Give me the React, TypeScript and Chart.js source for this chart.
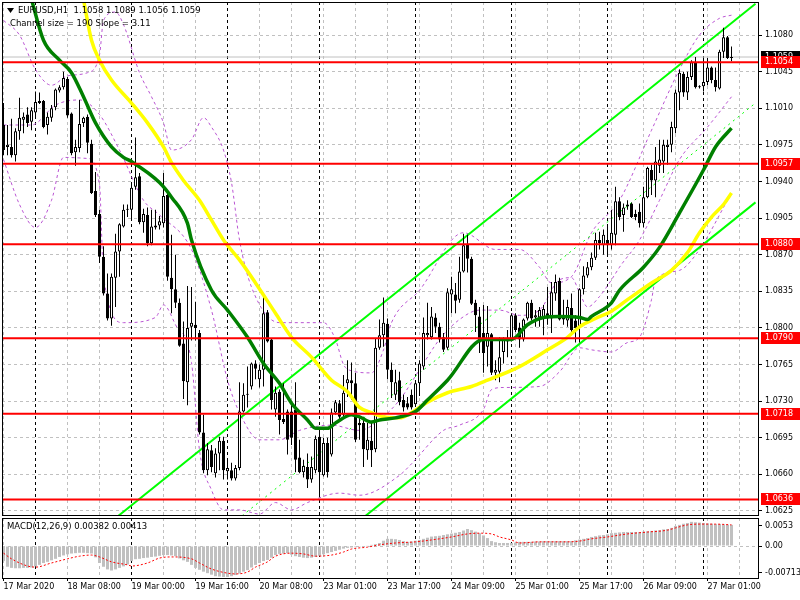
import React, { useEffect, useRef } from "react";
import { Chart, registerables } from "chart.js";

Chart.register(...registerables);

const FONT = "'DejaVu Sans', Verdana, sans-serif";

// [open, high, low, close] per H1 bar, 17 Mar 16:00 .. 27 Mar 07:00
const candles: number[][] = [
  [1.0994, 1.1015, 1.0965, 1.0970], [1.0973, 1.0994, 1.0965, 1.0975], [1.0973, 1.1000, 1.0963, 1.0965], [1.0965, 1.0991, 1.0959, 1.0988],
  [1.0988, 1.1020, 1.0980, 1.1001], [1.0999, 1.1006, 1.0986, 1.1002], [1.1004, 1.1011, 1.0992, 1.0996], [1.0997, 1.1011, 1.0989, 1.1008],
  [1.1006, 1.1026, 1.1002, 1.1016], [1.1015, 1.1025, 1.1014, 1.1017], [1.1017, 1.1018, 1.0991, 1.0992], [1.0994, 1.1006, 1.0985, 1.1002],
  [1.1001, 1.1013, 1.0997, 1.1010], [1.1011, 1.1029, 1.1008, 1.1028], [1.1027, 1.1032, 1.1025, 1.1030], [1.1030, 1.1045, 1.1028, 1.1039],
  [1.1038, 1.1040, 1.1001, 1.1003], [1.1005, 1.1006, 1.0965, 1.0967], [1.0968, 1.0980, 1.0955, 1.0973], [1.0972, 1.1018, 1.0968, 1.0995],
  [1.0996, 1.1002, 1.0992, 1.1001], [1.1002, 1.1004, 1.0967, 1.0977], [1.0976, 1.0980, 1.0928, 1.0929], [1.0931, 1.0949, 1.0906, 1.0908],
  [1.0909, 1.0913, 1.0862, 1.0868], [1.0868, 1.0878, 1.0831, 1.0833], [1.0833, 1.0852, 1.0807, 1.0809], [1.0809, 1.0852, 1.0802, 1.0849],
  [1.0848, 1.0890, 1.0820, 1.0873], [1.0873, 1.0900, 1.0849, 1.0899], [1.0897, 1.0918, 1.0896, 1.0913], [1.0913, 1.0918, 1.0906, 1.0914],
  [1.0913, 1.0937, 1.0903, 1.0934], [1.0935, 1.0982, 1.0932, 1.0944], [1.0945, 1.0948, 1.0899, 1.0901], [1.0901, 1.0914, 1.0891, 1.0909],
  [1.0908, 1.0915, 1.0878, 1.0881], [1.0881, 1.0913, 1.0879, 1.0897], [1.0896, 1.0913, 1.0894, 1.0898], [1.0898, 1.0907, 1.0894, 1.0902],
  [1.0900, 1.0948, 1.0896, 1.0926], [1.0927, 1.0932, 1.0845, 1.0849], [1.0848, 1.0889, 1.0814, 1.0837], [1.0837, 1.0870, 1.0819, 1.0824],
  [1.0824, 1.0828, 1.0782, 1.0783], [1.0785, 1.0806, 1.0732, 1.0749], [1.0748, 1.0840, 1.0726, 1.0800], [1.0801, 1.0839, 1.0788, 1.0805],
  [1.0803, 1.0825, 1.0788, 1.0800], [1.0795, 1.0798, 1.0698, 1.0700], [1.0700, 1.0717, 1.0661, 1.0664], [1.0664, 1.0690, 1.0659, 1.0684],
  [1.0683, 1.0688, 1.0662, 1.0667], [1.0661, 1.0685, 1.0657, 1.0680], [1.0680, 1.0696, 1.0664, 1.0692], [1.0692, 1.0696, 1.0655, 1.0664],
  [1.0663, 1.0674, 1.0655, 1.0666], [1.0664, 1.0671, 1.0654, 1.0656], [1.0656, 1.0669, 1.0654, 1.0666], [1.0666, 1.0748, 1.0664, 1.0720],
  [1.0720, 1.0747, 1.0719, 1.0736], [1.0736, 1.0763, 1.0724, 1.0737], [1.0744, 1.0767, 1.0741, 1.0766], [1.0766, 1.0769, 1.0751, 1.0761],
  [1.0751, 1.0765, 1.0743, 1.0760], [1.0760, 1.0832, 1.0744, 1.0814], [1.0815, 1.0817, 1.0786, 1.0787], [1.0789, 1.0790, 1.0722, 1.0731],
  [1.0722, 1.0744, 1.0715, 1.0738], [1.0739, 1.0741, 1.0698, 1.0712], [1.0713, 1.0747, 1.0708, 1.0710], [1.0720, 1.0722, 1.0679, 1.0693],
  [1.0720, 1.0726, 1.0688, 1.0695], [1.0722, 1.0748, 1.0662, 1.0674], [1.0676, 1.0693, 1.0661, 1.0662], [1.0662, 1.0674, 1.0657, 1.0668],
  [1.0667, 1.0680, 1.0647, 1.0655], [1.0655, 1.0677, 1.0652, 1.0667], [1.0664, 1.0697, 1.0661, 1.0694], [1.0696, 1.0702, 1.0638, 1.0662],
  [1.0659, 1.0695, 1.0658, 1.0690], [1.0690, 1.0695, 1.0657, 1.0662], [1.0679, 1.0723, 1.0677, 1.0719], [1.0719, 1.0731, 1.0717, 1.0729],
  [1.0728, 1.0731, 1.0712, 1.0715], [1.0717, 1.0755, 1.0715, 1.0738], [1.0747, 1.0769, 1.0734, 1.0751], [1.0750, 1.0767, 1.0731, 1.0747],
  [1.0747, 1.0757, 1.0691, 1.0693], [1.0709, 1.0715, 1.0693, 1.0707], [1.0709, 1.0715, 1.0667, 1.0684], [1.0683, 1.0709, 1.0674, 1.0693],
  [1.0692, 1.0709, 1.0667, 1.0683], [1.0684, 1.0790, 1.0681, 1.0781], [1.0781, 1.0808, 1.0779, 1.0793], [1.0793, 1.0829, 1.0782, 1.0805],
  [1.0804, 1.0809, 1.0751, 1.0760], [1.0760, 1.0767, 1.0733, 1.0748], [1.0736, 1.0760, 1.0731, 1.0748], [1.0750, 1.0758, 1.0726, 1.0729],
  [1.0731, 1.0736, 1.0720, 1.0724], [1.0728, 1.0734, 1.0722, 1.0724], [1.0736, 1.0741, 1.0722, 1.0724], [1.0727, 1.0750, 1.0726, 1.0747],
  [1.0747, 1.0769, 1.0735, 1.0766], [1.0763, 1.0810, 1.0760, 1.0795], [1.0793, 1.0824, 1.0789, 1.0795], [1.0791, 1.0820, 1.0789, 1.0811],
  [1.0810, 1.0814, 1.0795, 1.0801], [1.0801, 1.0805, 1.0786, 1.0789], [1.0791, 1.0795, 1.0777, 1.0779], [1.0781, 1.0838, 1.0779, 1.0834],
  [1.0832, 1.0849, 1.0814, 1.0837], [1.0832, 1.0843, 1.0814, 1.0826], [1.0827, 1.0868, 1.0824, 1.0854], [1.0854, 1.0890, 1.0853, 1.0879],
  [1.0880, 1.0889, 1.0853, 1.0866], [1.0866, 1.0868, 1.0822, 1.0823], [1.0824, 1.0827, 1.0796, 1.0812], [1.0811, 1.0820, 1.0776, 1.0786],
  [1.0795, 1.0822, 1.0757, 1.0776], [1.0782, 1.0821, 1.0763, 1.0795], [1.0794, 1.0795, 1.0755, 1.0757], [1.0757, 1.0769, 1.0750, 1.0760],
  [1.0758, 1.0791, 1.0748, 1.0772], [1.0777, 1.0791, 1.0766, 1.0789], [1.0787, 1.0798, 1.0772, 1.0790], [1.0789, 1.0814, 1.0787, 1.0812],
  [1.0812, 1.0814, 1.0796, 1.0798], [1.0800, 1.0805, 1.0781, 1.0789], [1.0789, 1.0809, 1.0787, 1.0808], [1.0809, 1.0825, 1.0807, 1.0824],
  [1.0824, 1.0827, 1.0807, 1.0809], [1.0810, 1.0817, 1.0801, 1.0812], [1.0810, 1.0820, 1.0801, 1.0817], [1.0810, 1.0822, 1.0793, 1.0818],
  [1.0814, 1.0839, 1.0803, 1.0809], [1.0809, 1.0844, 1.0795, 1.0834], [1.0833, 1.0851, 1.0826, 1.0844], [1.0845, 1.0848, 1.0807, 1.0808],
  [1.0812, 1.0827, 1.0803, 1.0808], [1.0807, 1.0827, 1.0801, 1.0820], [1.0819, 1.0833, 1.0796, 1.0798], [1.0807, 1.0812, 1.0786, 1.0800],
  [1.0800, 1.0838, 1.0786, 1.0837], [1.0837, 1.0859, 1.0832, 1.0850], [1.0850, 1.0863, 1.0848, 1.0858], [1.0858, 1.0872, 1.0855, 1.0867],
  [1.0867, 1.0891, 1.0865, 1.0884], [1.0884, 1.0892, 1.0875, 1.0881], [1.0879, 1.0894, 1.0870, 1.0889], [1.0884, 1.0898, 1.0870, 1.0879],
  [1.0879, 1.0913, 1.0875, 1.0891], [1.0889, 1.0935, 1.0879, 1.0921], [1.0921, 1.0925, 1.0903, 1.0906], [1.0908, 1.0919, 1.0892, 1.0915],
  [1.0916, 1.0922, 1.0913, 1.0918], [1.0919, 1.0920, 1.0905, 1.0906], [1.0909, 1.0913, 1.0903, 1.0906], [1.0911, 1.0919, 1.0896, 1.0900],
  [1.0900, 1.0935, 1.0896, 1.0925], [1.0925, 1.0954, 1.0924, 1.0953], [1.0951, 1.0956, 1.0927, 1.0941], [1.0941, 1.0973, 1.0925, 1.0959],
  [1.0955, 1.0980, 1.0948, 1.0961], [1.0959, 1.0980, 1.0948, 1.0975], [1.0973, 1.0980, 1.0956, 1.0975], [1.0975, 1.0997, 1.0968, 1.0992],
  [1.0991, 1.1028, 1.0986, 1.1025], [1.1025, 1.1047, 1.1008, 1.1044], [1.1043, 1.1045, 1.1021, 1.1025], [1.1025, 1.1045, 1.1018, 1.1040],
  [1.1040, 1.1056, 1.1037, 1.1054], [1.1054, 1.1059, 1.1029, 1.1030], [1.1031, 1.1032, 1.1029, 1.1030], [1.1031, 1.1058, 1.1026, 1.1035],
  [1.1035, 1.1058, 1.1032, 1.1049], [1.1049, 1.1050, 1.1034, 1.1037], [1.1037, 1.1049, 1.1026, 1.1030], [1.1029, 1.1066, 1.1028, 1.1064],
  [1.1064, 1.1087, 1.1058, 1.1078], [1.1078, 1.1079, 1.1057, 1.1058], [1.1058, 1.1069, 1.1055, 1.1059],
];

// [bar index, price]
const maGreen: number[][] = [
  [7, 1.1114], [10, 1.1075], [14, 1.1056], [17, 1.1044], [20, 1.1021], [23, 1.0996], [27, 1.0973], [30, 1.0963], [32, 1.0959],
  [39, 1.0939], [42, 1.0925], [46, 1.0900], [47, 1.0884], [52, 1.0836], [56, 1.0817], [61, 1.0791], [65, 1.0766], [69, 1.0747],
  [72, 1.0728], [76, 1.0712], [78, 1.0704], [81, 1.0704], [83, 1.0709], [87, 1.0717], [89, 1.0715], [92, 1.0710], [94, 1.0712],
  [98, 1.0714], [103, 1.0720], [106, 1.0731], [111, 1.0750], [120, 1.0789], [127, 1.0789], [131, 1.0803], [135, 1.0810],
  [139, 1.0811], [144, 1.0810], [146, 1.0808], [147, 1.0811], [152, 1.0824], [154, 1.0836], [160, 1.0858], [164, 1.0877],
  [169, 1.0910], [175, 1.0951], [178, 1.0973], [182, 1.0991],
];
const maYellow: number[][] = [
  [20, 1.1114], [22, 1.1075], [24, 1.1056], [27, 1.1037], [32, 1.1015], [36, 1.0996], [40, 1.0973], [42, 1.0958], [45, 1.0941],
  [49, 1.0922], [52, 1.0903], [55, 1.0884], [59, 1.0865], [63, 1.0843], [68, 1.0814], [72, 1.0791], [77, 1.0772], [82, 1.0750],
  [86, 1.0739], [89, 1.0724], [92, 1.0719], [95, 1.0715], [99, 1.0714], [102, 1.0719], [106, 1.0729], [111, 1.0738], [117, 1.0744],
  [121, 1.0750], [129, 1.0763], [136, 1.0779], [141, 1.0791], [144, 1.0801], [148, 1.0809], [152, 1.0816], [156, 1.0827],
  [162, 1.0843], [167, 1.0855], [171, 1.0872], [174, 1.0891], [177, 1.0906], [180, 1.0918], [182, 1.0929],
];
const bbUpper: number[][] = [
  [0, 1.1094], [4, 1.1080], [8, 1.1047], [12, 1.1032], [16, 1.1041], [21, 1.1044], [24, 1.1061], [25, 1.1094], [28, 1.1102],
  [30, 1.1090], [34, 1.1044], [37, 1.1021], [40, 1.0996], [42, 1.0970], [47, 1.0980], [50, 1.1001], [52, 1.0992], [55, 1.0970],
  [57, 1.0939], [59, 1.0884], [62, 1.0839], [69, 1.0805], [80, 1.0805], [83, 1.0789], [85, 1.0765], [87, 1.0759], [92, 1.0757],
  [95, 1.0779], [97, 1.0805], [104, 1.0836], [115, 1.0891], [123, 1.0875], [129, 1.0875], [134, 1.0858], [137, 1.0843],
  [142, 1.0849], [147, 1.0891], [154, 1.0922], [162, 1.0989], [169, 1.1047], [174, 1.1080], [179, 1.1096], [182, 1.1099],
];
const bbMiddle: number[][] = [
  [0, 1.0994], [7, 1.0994], [13, 1.1013], [19, 1.1018], [24, 1.1004], [29, 1.0970], [35, 1.0922], [39, 1.0908], [47, 1.0875],
  [52, 1.0817], [56, 1.0750], [59, 1.0719], [64, 1.0693], [69, 1.0693], [74, 1.0702], [82, 1.0707], [89, 1.0702], [94, 1.0712],
  [99, 1.0731], [104, 1.0760], [109, 1.0789], [114, 1.0808], [119, 1.0817], [124, 1.0817], [129, 1.0812], [134, 1.0817],
  [139, 1.0846], [142, 1.0848], [144, 1.0834], [146, 1.0820], [149, 1.0830], [152, 1.0846], [154, 1.0858], [159, 1.0884],
  [164, 1.0922], [169, 1.0961], [176, 1.0992], [182, 1.1021],
];
const bbLower: number[][] = [
  [0, 1.0961], [4, 1.0918], [8, 1.0896], [12, 1.0922], [15, 1.0963], [21, 1.0962], [24, 1.0937], [25, 1.0849], [30, 1.0805],
  [38, 1.0810], [40, 1.0822], [43, 1.0803], [47, 1.0767], [49, 1.0683], [52, 1.0645], [55, 1.0626], [59, 1.0626], [64, 1.0622],
  [68, 1.0633], [72, 1.0626], [76, 1.0633], [84, 1.0642], [89, 1.0640], [99, 1.0659], [102, 1.0670], [110, 1.0702], [114, 1.0707],
  [120, 1.0722], [122, 1.0741], [125, 1.0743], [134, 1.0744], [139, 1.0758], [144, 1.0781], [147, 1.0779], [152, 1.0777],
  [156, 1.0786], [159, 1.0791], [162, 1.0827], [163, 1.0846], [169, 1.0855], [174, 1.0875], [181, 1.0922],
];

// equidistant channel (anchor bar index, price)
const channelUpper: number[][] = [[0, 1.0532], [188, 1.1110]];
const channelMiddle: number[][] = [[0, 1.0437], [188, 1.1015]];
const channelLower: number[][] = [[0, 1.0342], [188, 1.0920]];

const levels = [1.1054, 1.0957, 1.088, 1.079, 1.0718, 1.0636];
const lastPrice = 1.1059;
const priceTicks = [1.108, 1.1045, 1.101, 1.0975, 1.094, 1.0905, 1.087, 1.0835, 1.08, 1.0765, 1.073, 1.0695, 1.066, 1.0625];

const macdHist = [
  -0.0040, -0.0055, -0.0058, -0.0059, -0.0059, -0.0058, -0.0058, -0.0057, -0.0054, -0.0050,
  -0.0045, -0.0042, -0.0038, -0.0034, -0.0029, -0.0025, -0.0022, -0.0020, -0.0019, -0.0018,
  -0.0018, -0.0019, -0.0020, -0.0030, -0.0045, -0.0055, -0.0062, -0.0065, -0.0062, -0.0058,
  -0.0054, -0.0049, -0.0040, -0.0035, -0.0034, -0.0032, -0.0031, -0.0029, -0.0028, -0.0026,
  -0.0024, -0.0024, -0.0025, -0.0027, -0.0033, -0.0038, -0.0042, -0.0050, -0.0058, -0.0063,
  -0.0068, -0.0072, -0.0076, -0.0080, -0.0081, -0.0082, -0.0082, -0.0080, -0.0077, -0.0073,
  -0.0068, -0.0064, -0.0057, -0.0050, -0.0045, -0.0040, -0.0037, -0.0031, -0.0024, -0.0021,
  -0.0020, -0.0019, -0.0023, -0.0027, -0.0029, -0.0031, -0.0032, -0.0031, -0.0029, -0.0026,
  -0.0022, -0.0019, -0.0016, -0.0013, -0.0010, -0.0007, -0.0005, -0.0004, -0.0003, -0.0002,
  -0.0001, 0.0001, 0.0003, 0.0005, 0.0008, 0.0014, 0.0019, 0.0019, 0.0018, 0.0016,
  0.0013, 0.0011, 0.0012, 0.0014, 0.0016, 0.0019, 0.0022, 0.0025, 0.0026, 0.0027,
  0.0029, 0.0031, 0.0033, 0.0035, 0.0037, 0.0041, 0.0045, 0.0042, 0.0038, 0.0034,
  0.0028, 0.0021, 0.0013, 0.0010, 0.0008, 0.0008, 0.0008, 0.0008, 0.0009, 0.0011,
  0.0011, 0.0011, 0.0011, 0.0012, 0.0012, 0.0013, 0.0013, 0.0013, 0.0013, 0.0013,
  0.0013, 0.0013, 0.0013, 0.0015, 0.0017, 0.0019, 0.0021, 0.0024, 0.0026, 0.0028,
  0.0029, 0.0031, 0.0034, 0.0035, 0.0036, 0.0037, 0.0037, 0.0037, 0.0037, 0.0037,
  0.0038, 0.0039, 0.0040, 0.0041, 0.0042, 0.0044, 0.0045, 0.0048, 0.0053, 0.0056,
  0.0059, 0.0061, 0.0064, 0.0063, 0.0062, 0.0061, 0.0060, 0.0059, 0.0058, 0.0058,
  0.0057, 0.0056, 0.0056,
];
const macdSignal: number[][] = [
  [0, -0.0019], [2, -0.0034], [6, -0.0053], [8, -0.0056], [12, -0.0045], [16, -0.0034], [19, -0.0027], [22, -0.0024],
  [24, -0.0029], [27, -0.0042], [31, -0.0050], [32, -0.0053], [36, -0.0045], [39, -0.0032], [42, -0.0029], [47, -0.0034],
  [49, -0.0045], [52, -0.0061], [56, -0.0072], [58, -0.0074], [61, -0.0069], [63, -0.0056], [66, -0.0042], [68, -0.0027],
  [72, -0.0019], [75, -0.0021], [78, -0.0027], [82, -0.0024], [85, -0.0016], [87, -0.0008], [91, -0.0003], [94, 0.0003],
  [98, 0.0008], [103, 0.0011], [107, 0.0016], [112, 0.0024], [116, 0.0032], [119, 0.0034], [122, 0.0032], [124, 0.0024],
  [127, 0.0016], [129, 0.0008], [134, 0.0011], [141, 0.0011], [144, 0.0013], [147, 0.0019], [151, 0.0024], [156, 0.0032],
  [161, 0.0037], [166, 0.0042], [168, 0.0048], [171, 0.0056], [174, 0.0058], [178, 0.0058], [182, 0.0056],
];
const macdTicks = [-0.00713, 0, 0.0053];
const macdTickLabels = ["-0.00713", "0.00", "0.0053"];

const timeLabels: [number, string][] = [
  [0, "17 Mar 2020"], [16, "18 Mar 08:00"], [32, "19 Mar 00:00"], [48, "19 Mar 16:00"], [64, "20 Mar 08:00"],
  [80, "23 Mar 01:00"], [96, "23 Mar 17:00"], [112, "24 Mar 09:00"], [128, "25 Mar 01:00"], [144, "25 Mar 17:00"],
  [160, "26 Mar 09:00"], [176, "27 Mar 01:00"],
];
const daySeparators = [8, 32, 56, 79, 103, 127, 151, 175];

const titleText = "EURUSD,H1  1.1058 1.1089 1.1056 1.1059";
const channelText = "Channel size = 190 Slope = 3.11";
const macdText = "MACD(12,26,9) 0.00382 0.00413";

const X_MIN = -0.375;
const X_MAX = 188.625;
const Y_MIN = 1.06211;
const Y_MAX = 1.11116;
const M_MIN = -0.00848;
const M_MAX = 0.00742;

const pts = (arr: number[][]) => arr.map(([x, y]) => ({ x, y }));

function drawSeparators(chart: any) {
  const { ctx, chartArea: a, scales } = chart;
  ctx.save();
  ctx.strokeStyle = "#000";
  ctx.lineWidth = 1;
  ctx.setLineDash([3, 3]);
  daySeparators.forEach((i) => {
    const px = Math.floor(scales.x.getPixelForValue(i)) + 0.5;
    ctx.beginPath();
    ctx.moveTo(px, a.top);
    ctx.lineTo(px, a.bottom);
    ctx.stroke();
  });
  ctx.restore();
}

function drawFrame(chart: any) {
  const { ctx, chartArea: a } = chart;
  ctx.save();
  ctx.strokeStyle = "#000";
  ctx.lineWidth = 1;
  ctx.setLineDash([]);
  ctx.strokeRect(a.left + 0.5, a.top + 0.5, a.right - a.left, a.bottom - a.top);
  ctx.restore();
}

const mainDecor = {
  id: "mainDecor",
  beforeDatasetsDraw(chart: any) {
    drawSeparators(chart);
  },
  afterDraw(chart: any) {
    const { ctx, chartArea: a, scales } = chart;
    drawFrame(chart);
    ctx.save();
    ctx.font = `8px ${FONT}`;
    ctx.textBaseline = "middle";
    ctx.textAlign = "left";
    const tag = (v: number, bg: string) => {
      const py = Math.round(scales.y.getPixelForValue(v));
      ctx.fillStyle = bg;
      ctx.fillRect(a.right + 3, py - 6, 800 - a.right - 3, 12);
      ctx.fillStyle = "#fff";
      ctx.fillText(v.toFixed(4), a.right + 7, py);
    };
    tag(lastPrice, "#000");
    levels.forEach((v) => tag(v, "#ff0000"));
    // title
    ctx.fillStyle = "#000";
    ctx.beginPath();
    ctx.moveTo(a.left + 5, a.top + 6);
    ctx.lineTo(a.left + 12, a.top + 6);
    ctx.lineTo(a.left + 8.5, a.top + 11);
    ctx.closePath();
    ctx.fill();
    ctx.font = `8.5px ${FONT}`;
    ctx.fillText(titleText, a.left + 16, a.top + 8.5);
    ctx.fillText(channelText, a.left + 8, a.top + 21.5);
    ctx.restore();
  },
};

const macdDecor = {
  id: "macdDecor",
  beforeDatasetsDraw(chart: any) {
    drawSeparators(chart);
  },
  afterDraw(chart: any) {
    const { ctx, chartArea: a } = chart;
    drawFrame(chart);
    ctx.save();
    ctx.fillStyle = "#000";
    ctx.font = `8.5px ${FONT}`;
    ctx.textBaseline = "middle";
    ctx.textAlign = "left";
    ctx.fillText(macdText, a.left + 5, a.top + 9);
    ctx.restore();
  },
};

const gridTicks: number[] = [];
for (let v = 0; v <= 184; v += 8) gridTicks.push(v);
const labelMap = new Map<number, string>(timeLabels);

const fitY = (s: any) => {
  s.width = 42;
  s.paddingTop = 0;
  s.paddingBottom = 0;
  s.paddingLeft = 0;
  s.paddingRight = 0;
};
const fitX = (h: number) => (s: any) => {
  s.height = h;
  s.paddingLeft = 0;
  s.paddingRight = 0;
  s.paddingTop = 0;
  s.paddingBottom = 0;
};

export default function App() {
  const mainRef = useRef<HTMLCanvasElement | null>(null);
  const macdRef = useRef<HTMLCanvasElement | null>(null);

  useEffect(() => {
    document.body.style.margin = "0";
    document.body.style.background = "#fff";
    Chart.defaults.font.family = FONT;
    Chart.defaults.color = "#000";

    const lineBase = { type: "line" as const, pointRadius: 0, fill: false, borderJoinStyle: "round" as const };
    const bodyColors = candles.map((c) => (c[3] >= c[0] ? "#ffffff" : "#000000"));

    const main = new Chart(mainRef.current as HTMLCanvasElement, {
      type: "bar",
      data: {
        datasets: [
          ...levels.map((v) => ({
            ...lineBase,
            data: [{ x: X_MIN, y: v }, { x: X_MAX, y: v }],
            borderColor: "#ff0000",
            borderWidth: 2,
            order: 0,
          })),
          { ...lineBase, data: pts(maGreen), borderColor: "#008000", borderWidth: 3.5, cubicInterpolationMode: "monotone", order: 1 },
          { ...lineBase, data: pts(maYellow), borderColor: "#ffff00", borderWidth: 3.5, cubicInterpolationMode: "monotone", order: 1 },
          {
            type: "bar",
            data: candles.map((c, i) => ({ x: i, y: [Math.min(c[0], c[3]), Math.max(c[0], c[3])] })),
            backgroundColor: bodyColors,
            borderColor: "#000",
            borderWidth: 1,
            borderSkipped: false,
            barThickness: 3,
            grouped: false,
            inflateAmount: 0,
            order: 2,
          },
          {
            type: "bar",
            data: candles.map((c, i) => ({ x: i, y: [c[2], c[1]] })),
            backgroundColor: "#000",
            borderWidth: 0,
            barThickness: 1,
            grouped: false,
            inflateAmount: 0,
            order: 3,
          },
          { ...lineBase, data: pts(channelUpper), borderColor: "#00ff00", borderWidth: 2, order: 4 },
          { ...lineBase, data: pts(channelLower), borderColor: "#00ff00", borderWidth: 2, order: 4 },
          { ...lineBase, data: pts(channelMiddle), borderColor: "#00ff00", borderWidth: 1, borderDash: [2, 4], order: 4 },
          { ...lineBase, data: pts(bbUpper), borderColor: "#ba55d3", borderWidth: 1, borderDash: [3, 3], cubicInterpolationMode: "monotone", order: 5 },
          { ...lineBase, data: pts(bbMiddle), borderColor: "#ba55d3", borderWidth: 1, borderDash: [3, 3], cubicInterpolationMode: "monotone", order: 5 },
          { ...lineBase, data: pts(bbLower), borderColor: "#ba55d3", borderWidth: 1, borderDash: [3, 3], cubicInterpolationMode: "monotone", order: 5 },
          {
            ...lineBase,
            data: [{ x: X_MIN, y: lastPrice }, { x: X_MAX, y: lastPrice }],
            borderColor: "#c0c0c0",
            borderWidth: 1,
            order: 6,
          },
        ] as any,
      },
      options: {
        responsive: false,
        animation: false,
        devicePixelRatio: 1,
        events: [],
        layout: { padding: { left: 2, top: 2, right: 0, bottom: 1 } },
        plugins: { legend: { display: false }, tooltip: { enabled: false } },
        scales: {
          x: {
            type: "linear",
            min: X_MIN,
            max: X_MAX,
            offset: false,
            afterBuildTicks: (s: any) => {
              s.ticks = gridTicks.map((value) => ({ value }));
            },
            afterFit: fitX(0),
            ticks: { display: false },
            grid: { color: "#c0c0c0", lineWidth: 1, drawTicks: false, offset: false },
            border: { display: false, dash: [3, 3] },
          },
          y: {
            type: "linear",
            position: "right",
            min: Y_MIN,
            max: Y_MAX,
            afterBuildTicks: (s: any) => {
              s.ticks = priceTicks.map((value) => ({ value }));
            },
            afterFit: fitY,
            ticks: {
              autoSkip: false,
              padding: 3,
              color: "#000",
              font: { family: FONT, size: 8 },
              callback: (v: any) => Number(v).toFixed(4),
            },
            grid: { color: "#c0c0c0", lineWidth: 1, tickLength: 4, tickColor: "#000", tickBorderDash: [] },
            border: { display: false, dash: [3, 3] },
          },
        },
      } as any,
      plugins: [mainDecor],
    });

    const macd = new Chart(macdRef.current as HTMLCanvasElement, {
      type: "bar",
      data: {
        datasets: [
          {
            ...lineBase,
            data: pts(macdSignal),
            borderColor: "#ff0000",
            borderWidth: 1,
            borderDash: [2, 2],
            cubicInterpolationMode: "monotone",
            order: 0,
          },
          {
            type: "bar",
            data: macdHist.map((v, i) => ({ x: i, y: v })),
            backgroundColor: "#c0c0c0",
            borderWidth: 0,
            barThickness: 3,
            grouped: false,
            inflateAmount: 0,
            order: 1,
          },
        ] as any,
      },
      options: {
        responsive: false,
        animation: false,
        devicePixelRatio: 1,
        events: [],
        layout: { padding: { left: 2, top: 2, right: 0, bottom: 0 } },
        plugins: { legend: { display: false }, tooltip: { enabled: false } },
        scales: {
          x: {
            type: "linear",
            min: X_MIN,
            max: X_MAX,
            offset: false,
            afterBuildTicks: (s: any) => {
              s.ticks = gridTicks.map((value) => ({ value }));
            },
            afterFit: fitX(22),
            ticks: {
              autoSkip: false,
              maxRotation: 0,
              minRotation: 0,
              align: "start",
              padding: 1,
              color: "#000",
              font: { family: FONT, size: 8 },
              callback: (v: any) => labelMap.get(Number(v)) ?? "",
            },
            grid: {
              color: "#c0c0c0",
              lineWidth: 1,
              offset: false,
              tickLength: 3,
              tickBorderDash: [],
              tickColor: (ctx: any) => (ctx.tick && labelMap.has(ctx.tick.value) ? "#000" : "rgba(0,0,0,0)"),
            },
            border: { display: false, dash: [3, 3] },
          },
          y: {
            type: "linear",
            position: "right",
            min: M_MIN,
            max: M_MAX,
            afterBuildTicks: (s: any) => {
              s.ticks = macdTicks.map((value) => ({ value }));
            },
            afterFit: fitY,
            ticks: {
              autoSkip: false,
              padding: 3,
              color: "#000",
              font: { family: FONT, size: 8 },
              callback: (_v: any, i: number) => macdTickLabels[i],
            },
            grid: {
              color: (ctx: any) => (ctx.tick && ctx.tick.value === 0 ? "#c0c0c0" : "rgba(0,0,0,0)"),
              lineWidth: 1,
              tickLength: 4,
              tickColor: "#000",
              tickBorderDash: [],
            },
            border: { display: false, dash: [3, 3] },
          },
        },
      } as any,
      plugins: [macdDecor],
    });

    return () => {
      main.destroy();
      macd.destroy();
    };
  }, []);

  return (
    <div style={{ position: "relative", width: 800, height: 600, background: "#fff", overflow: "hidden" }}>
      <canvas
        ref={mainRef}
        width={800}
        height={516}
        style={{ position: "absolute", left: 0, top: 0, width: 800, height: 516 }}
      />
      <canvas
        ref={macdRef}
        width={800}
        height={84}
        style={{ position: "absolute", left: 0, top: 516, width: 800, height: 84 }}
      />
    </div>
  );
}
